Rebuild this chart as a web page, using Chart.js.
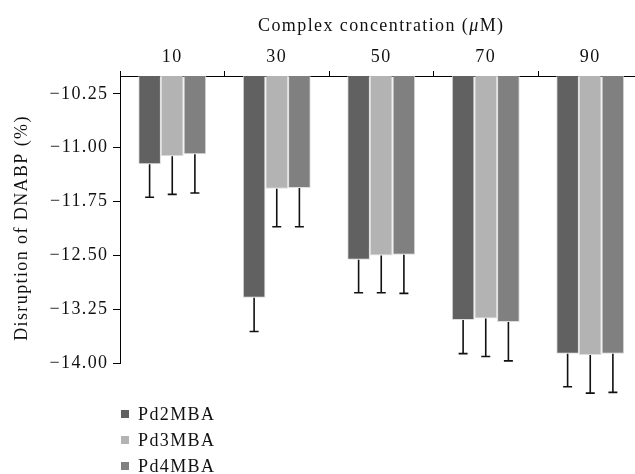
<!DOCTYPE html>
<html><head><meta charset="utf-8">
<script src="https://cdn.jsdelivr.net/npm/chart.js@4.4.0/dist/chart.umd.min.js"></script>
<style>
html,body{margin:0;padding:0;background:#fff;overflow:hidden;width:635px;height:474px;}
#wrap{position:relative;width:650px;height:474px;}
#c{display:block;width:650px;height:474px;}
#legend{position:absolute;left:121px;top:401px;font-family:"Liberation Serif",serif;font-size:18px;color:#111;letter-spacing:1.4px;}
.item{display:flex;align-items:center;height:26px;}
.sw{width:8px;height:8px;margin-right:9px;}
</style></head><body>
<div id="wrap"><canvas id="c" width="650" height="474"></canvas><div id="legend"></div></div>
<script>
const categories = ['10', '30', '50', '70', '90'];
const seriesNames = ['Pd2MBA', 'Pd3MBA', 'Pd4MBA'];
const pd2 = [-11.23, -13.09, -12.56, -13.40, -13.87];
const pd3 = [-11.12, -11.57, -12.50, -13.38, -13.89];
const pd4 = [-11.09, -11.56, -12.49, -13.43, -13.87];
const pd2Err = [0.46, 0.47, 0.46, 0.47, 0.46];
const pd3Err = [0.53, 0.53, 0.52, 0.53, 0.53];
const pd4Err = [0.54, 0.54, 0.54, 0.54, 0.54];
const yTicks = [-10.25, -11.00, -11.75, -12.50, -13.25, -14.00];
const colors = ['#616161', '#b3b3b3', '#808080'];
const xTitleParts = [['Complex concentration (', 'normal'], ['\u03bc', 'italic'], ['M)', 'normal']];
const yTitle = 'Disruption of DNABP (%)';
const FONT = '"Liberation Serif", "Times New Roman", serif';
const SPACING = '1.4px';

const spacingPlugin = {
  id: 'spacing',
  beforeUpdate(chart) { chart.ctx.letterSpacing = SPACING; },
  beforeDraw(chart) { chart.ctx.letterSpacing = SPACING; }
};

const errorBars = {
  id: 'errorBars',
  afterDatasetsDraw(chart) {
    const ctx = chart.ctx, ys = chart.scales.y;
    chart.data.datasets.forEach((ds, i) => {
      const meta = chart.getDatasetMeta(i);
      meta.data.forEach((el, j) => {
        const v = ds.data[j], e = ds.errors[j];
        const y0 = el.y, y1 = ys.getPixelForValue(v - e);
        ctx.save();
        ctx.strokeStyle = '#111';
        ctx.lineWidth = 1.6;
        ctx.beginPath();
        ctx.moveTo(el.x, y0); ctx.lineTo(el.x, y1);
        ctx.moveTo(el.x - 4.5, y1); ctx.lineTo(el.x + 4.5, y1);
        ctx.stroke();
        ctx.restore();
      });
    });
  }
};

const axisTitles = {
  id: 'axisTitles',
  afterDraw(chart) {
    const ctx = chart.ctx, ca = chart.chartArea;
    ctx.save();
    ctx.letterSpacing = SPACING;
    ctx.fillStyle = '#111';
    ctx.textBaseline = 'middle';
    ctx.textAlign = 'left';
    let total = 0;
    xTitleParts.forEach(p => { ctx.font = p[1] + ' 18px ' + FONT; total += ctx.measureText(p[0]).width; });
    let x = (ca.left + ca.right) / 2 - total / 2;
    xTitleParts.forEach(p => { ctx.font = p[1] + ' 18px ' + FONT; ctx.fillText(p[0], x, 26); x += ctx.measureText(p[0]).width; });
    ctx.font = 'normal 18px ' + FONT;
    ctx.translate(22, 228);
    ctx.rotate(-Math.PI / 2);
    ctx.textAlign = 'center';
    ctx.fillText(yTitle, 0, 0);
    ctx.restore();
  }
};

const datasets = [pd2, pd3, pd4].map((d, i) => ({
  label: seriesNames[i],
  data: d,
  errors: [pd2Err, pd3Err, pd4Err][i],
  base: -10,
  backgroundColor: colors[i],
  borderColor: '#dedede',
  borderWidth: 1,
  categoryPercentage: 0.65,
  barPercentage: 1.0
}));

const chart = new Chart(document.getElementById('c'), {
  type: 'bar',
  data: { labels: categories, datasets },
  options: {
    responsive: false,
    animation: false,
    layout: { padding: { left: 0, right: 7.5, top: 0, bottom: 111 } },
    plugins: { legend: { display: false }, tooltip: { enabled: false } },
    scales: {
      x: {
        position: 'top',
        grid: { display: true, drawOnChartArea: false, drawTicks: true, tickLength: 5, color: '#000', offset: true },
        border: { display: true, color: '#000', width: 1 },
        ticks: { color: '#111', font: { family: FONT, size: 18 }, padding: 3 },
        afterFit(s) { s.height = 76; }
      },
      y: {
        min: -14, max: -10,
        afterBuildTicks(s) { s.ticks = yTicks.map(v => ({ value: v })); },
        grid: { display: true, drawOnChartArea: false, drawTicks: true, tickLength: 7, color: '#000' },
        border: { display: true, color: '#000', width: 1 },
        ticks: { color: '#111', font: { family: FONT, size: 18 }, padding: 4.5,
          callback: v => '\u2212' + Math.abs(v).toFixed(2) },
        afterFit(s) { s.width = 120; }
      }
    }
  },
  plugins: [spacingPlugin, errorBars, axisTitles]
});

const leg = document.getElementById('legend');
chart.data.datasets.forEach(ds => {
  const it = document.createElement('div'); it.className = 'item';
  const sw = document.createElement('span'); sw.className = 'sw'; sw.style.background = ds.backgroundColor;
  const tx = document.createElement('span'); tx.textContent = ds.label;
  it.appendChild(sw); it.appendChild(tx); leg.appendChild(it);
});
</script>
</body></html>
